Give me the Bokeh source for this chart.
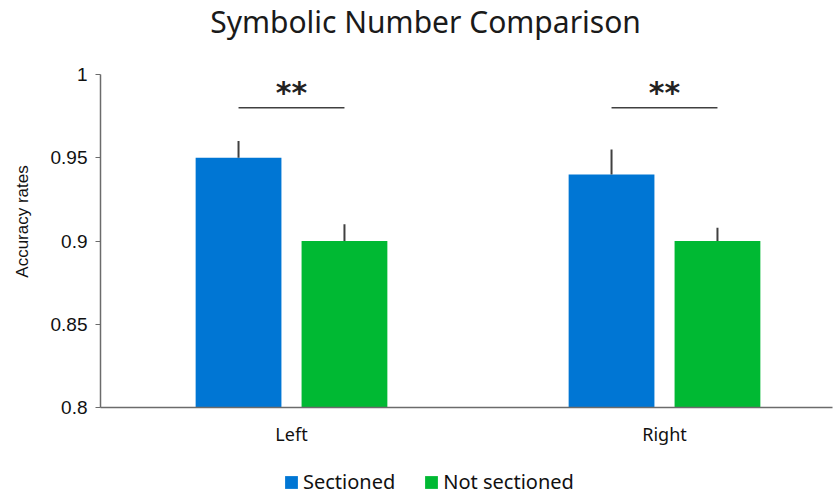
import math
from bokeh.plotting import figure
from bokeh.models import (Range1d, FixedTicker, NumeralTickFormatter, Label,
                          Legend, LegendItem)
from bokeh.core.properties import value
from bokeh.embed import file_html
from bokeh.resources import INLINE

# ---- data ----
categories = ["Left", "Right"]
sectioned = [0.95, 0.94]
sectioned_err = [0.010, 0.015]
not_sectioned = [0.90, 0.90]
not_sectioned_err = [0.010, 0.008]
y_ticks = [0.8, 0.85, 0.9, 0.95, 1.0]
y_min, y_max = 0.8, 1.0
significance = ["**", "**"]
sig_level = [0.98, 0.98]

BLUE = "#0076D4"
GREEN = "#00B933"
DARK = "#404040"
AXIS = "#6b6b6b"

pos = list(range(len(categories)))
off = 0.142
w = 0.23
x_s = [p_ - off for p_ in pos]
x_n = [p_ + off for p_ in pos]

# layout in pixels: the frame fills the whole canvas; axes are pinned inside it
W, H = 834, 495
px_per_cat = 373.0
cat0_px = 291.0
ax_left_px, ax_right_px = 100.0, 832.0
ax_top_px, ax_bottom_px = 74.0, 407.0
py = (y_max - y_min) / (ax_bottom_px - ax_top_px)

x_start = (0 - cat0_px) / px_per_cat
x_end = (W - cat0_px) / px_per_cat
x_axis_left = (ax_left_px - cat0_px) / px_per_cat
x_axis_right = (ax_right_px - cat0_px) / px_per_cat
y_start = y_min - (H - ax_bottom_px) * py
y_end = y_max + ax_top_px * py

p = figure(width=W, height=H, output_backend="svg", toolbar_location=None,
           x_range=Range1d(x_start, x_end), y_range=Range1d(y_start, y_end),
           min_border=0)
p.outline_line_color = None
p.grid.visible = False

r_s = p.vbar(x=x_s, top=sectioned, bottom=y_min, width=w, fill_color=BLUE, line_color=None)
r_n = p.vbar(x=x_n, top=not_sectioned, bottom=y_min, width=w, fill_color=GREEN, line_color=None)

# error bars (upper only)
p.segment(x0=x_s, y0=sectioned, x1=x_s,
          y1=[v + e for v, e in zip(sectioned, sectioned_err)],
          line_color=DARK, line_width=2)
p.segment(x0=x_n, y0=not_sectioned, x1=x_n,
          y1=[v + e for v, e in zip(not_sectioned, not_sectioned_err)],
          line_color=DARK, line_width=2)

# significance lines and stars
p.segment(x0=x_s, y0=sig_level, x1=x_n, y1=sig_level, line_color=DARK, line_width=1.5)
p.text(x=pos, y=sig_level, text=significance, text_align="center",
       text_baseline="alphabetic", y_offset=-15, text_font=value("DejaVu Sans"),
       text_font_style="bold", text_font_size="30px", text_color="#222222")

# axes pinned inside the frame
yax = p.yaxis[0]
yax.fixed_location = x_axis_left
yax.bounds = (y_min, y_max)
yax.ticker = FixedTicker(ticks=y_ticks)
yax.formatter = NumeralTickFormatter(format="0.[00]")
yax.major_label_text_font = "Liberation Sans"
yax.major_label_text_font_size = "19px"
yax.major_label_text_color = "#111111"
yax.major_label_standoff = 8
yax.major_tick_out = 5
yax.major_tick_in = 0
yax.minor_tick_line_color = None
yax.axis_line_color = AXIS
yax.major_tick_line_color = AXIS
yax.axis_line_width = 1.5

xax = p.xaxis[0]
xax.fixed_location = y_min
xax.bounds = (x_axis_left, x_axis_right)
xax.ticker = FixedTicker(ticks=pos)
xax.major_label_overrides = {i: c for i, c in zip(pos, categories)}
xax.major_label_text_font = "Noto Sans"
xax.major_label_text_font_size = "18px"
xax.major_label_text_color = "#111111"
xax.major_label_standoff = 8
xax.major_tick_line_color = None
xax.minor_tick_line_color = None
xax.axis_line_color = AXIS
xax.axis_line_width = 1.5

# y axis title
p.add_layout(Label(x=22, y=H - 221, x_units="screen", y_units="screen",
                   text="Accuracy rates", angle=math.pi / 2, text_align="center",
                   text_baseline="middle", text_font="Liberation Sans",
                   text_font_size="17px", text_color="#111111"))

# chart title
p.add_layout(Label(x=425, y=H - 21, x_units="screen", y_units="screen",
                   text="Symbolic Number Comparison", text_align="center",
                   text_baseline="alphabetic", text_font="Noto Sans",
                   text_font_size="30px", text_color="#1a1a1a"))

legend = Legend(items=[LegendItem(label="Sectioned", renderers=[r_s]),
                       LegendItem(label="Not sectioned", renderers=[r_n])],
                location=(283, 0), orientation="horizontal",
                glyph_width=16, glyph_height=16, label_standoff=4, spacing=28,
                label_text_font="Noto Sans", label_text_font_size="20px",
                label_text_color="#111111", padding=0, margin=0,
                border_line_color=None, background_fill_alpha=0)
p.add_layout(legend)

open("out.html", "w").write(file_html(p, INLINE))
